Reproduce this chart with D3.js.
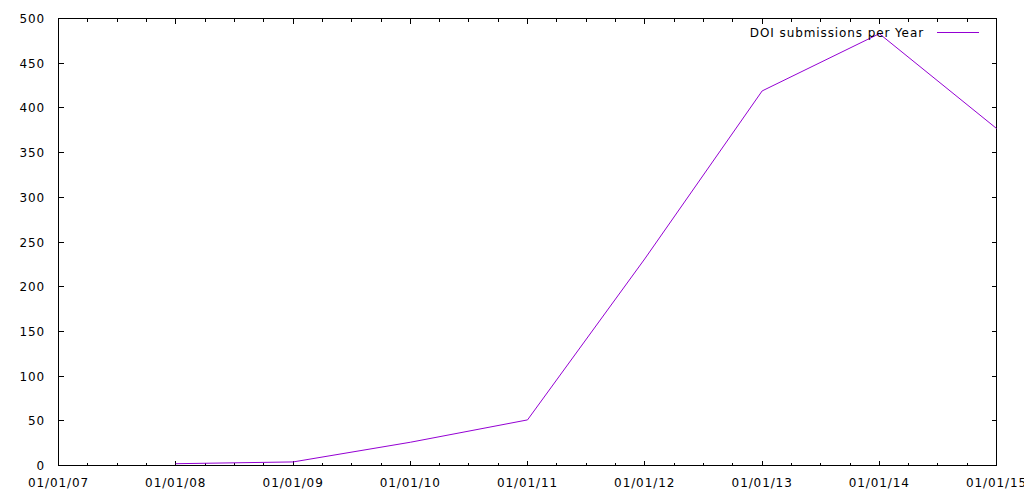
<!DOCTYPE html>
<html>
<head>
<meta charset="utf-8">
<script src="https://cdn.jsdelivr.net/npm/d3@7"></script>
<style>
  html, body { margin: 0; padding: 0; background: #fff; }
  svg { display: block; }
  text { font-family: "DejaVu Sans", sans-serif; font-size: 12px; fill: #000; }
</style>
</head>
<body>
<svg id="chart" width="1024" height="500"></svg>
<script>
// ---- data ----
const dates = ["2008-01-01", "2009-01-01", "2010-01-01", "2011-01-01", "2012-01-01", "2013-01-01", "2014-01-01", "2015-01-01"];
const submissions = [2, 4, 26, 51, 231, 419, 483, 377];
const xTickDates = ["2007-01-01", "2008-01-01", "2009-01-01", "2010-01-01", "2011-01-01", "2012-01-01", "2013-01-01", "2014-01-01", "2015-01-01"];
const yTicks = [0, 50, 100, 150, 200, 250, 300, 350, 400, 450, 500];
const seriesLabel = "DOI submissions per Year";

const parse = d3.utcParse("%Y-%m-%d");
const fmt = d3.utcFormat("%d/%m/%y");
const data = dates.map((d, i) => ({ date: parse(d), value: submissions[i] }));
const xTicks = xTickDates.map(parse);

const svg = d3.select("#chart");
const L = 58.5, R = 996.5, T = 18.5, B = 465.5;

const x = d3.scaleUtc().domain([xTicks[0], xTicks[xTicks.length - 1]]).range([L, R]);
const y = d3.scaleLinear().domain([0, 500]).range([B, T]);

const g = svg.append("g").attr("shape-rendering", "crispEdges");

// major and minor x ticks (bottom + top mirror)
const majLen = 5, minLen = 3;
xTicks.forEach((t, i) => {
  const px = Math.round(x(t) - 0.5) + 0.5;
  g.append("line").attr("x1", px).attr("x2", px).attr("y1", B).attr("y2", B - majLen).attr("stroke", "#000");
  g.append("line").attr("x1", px).attr("x2", px).attr("y1", T).attr("y2", T + majLen).attr("stroke", "#000");
  if (i < xTicks.length - 1) {
    const a = x(t), b = x(xTicks[i + 1]);
    for (let k = 1; k < 4; k++) {
      const mx = Math.round(a + (b - a) * k / 4 - 0.5) + 0.5;
      g.append("line").attr("x1", mx).attr("x2", mx).attr("y1", B).attr("y2", B - minLen).attr("stroke", "#000");
      g.append("line").attr("x1", mx).attr("x2", mx).attr("y1", T).attr("y2", T + minLen).attr("stroke", "#000");
    }
  }
  svg.append("text")
    .attr("x", x(t)).attr("y", 487)
    .attr("text-anchor", "middle")
    .style("letter-spacing", "0.9px")
    .text(fmt(t));
});

// y ticks (left + right mirror)
yTicks.forEach(v => {
  const py = Math.round(y(v) - 0.5) + 0.5;
  g.append("line").attr("x1", L).attr("x2", L + majLen).attr("y1", py).attr("y2", py).attr("stroke", "#000");
  g.append("line").attr("x1", R).attr("x2", R - majLen).attr("y1", py).attr("y2", py).attr("stroke", "#000");
  svg.append("text")
    .attr("x", 45).attr("y", y(v) + 4.5)
    .attr("text-anchor", "end")
    .style("letter-spacing", "0.9px")
    .text(v);
});

// border
g.append("rect").attr("x", L).attr("y", T).attr("width", R - L).attr("height", B - T)
  .attr("fill", "none").attr("stroke", "#000");

// series line
const line = d3.line().x(d => x(d.date)).y(d => y(d.value));
svg.append("path").datum(data)
  .attr("d", line)
  .attr("fill", "none")
  .attr("stroke", "#9400d3")
  .attr("stroke-width", 1);

// legend
svg.append("text")
  .attr("x", 924).attr("y", 36.5)
  .attr("text-anchor", "end")
  .style("letter-spacing", "0.9px")
  .text(seriesLabel);
svg.append("line")
  .attr("x1", 937).attr("x2", 979).attr("y1", 32.5).attr("y2", 32.5)
  .attr("stroke", "#9400d3").attr("stroke-width", 1);
</script>
</body>
</html>
